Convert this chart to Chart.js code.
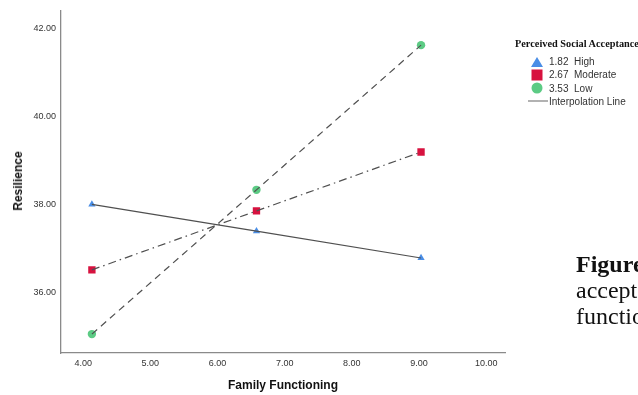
<!DOCTYPE html>
<html lang="en">
<head>
  <meta charset="UTF-8" />
  <title>Resilience by Family Functioning</title>
  <script src="https://cdn.jsdelivr.net/npm/chart.js"></script>
  <style>
    body {
      margin: 0;
      background: #fff;
      width: 638px;
      height: 395px;
      overflow: hidden;
      position: relative;
      font-family: 'Liberation Sans', Arial, sans-serif;
    }
    #chart { position: absolute; left: 0; top: 0; }
    .ytitle {
      position: absolute;
      left: 18px; top: 181px;
      transform: translate(-50%, -50%) rotate(-90deg);
      font-weight: bold; font-size: 12px; color: #111;
      white-space: nowrap;
    }
    .xtitle {
      position: absolute;
      left: 283px; top: 385px;
      transform: translate(-50%, -50%);
      font-weight: bold; font-size: 12px; color: #111;
      white-space: nowrap;
    }
    .legend {
      position: absolute;
      left: 515px; top: 38px;
      white-space: nowrap;
    }
    .legend-title {
      font-family: 'Liberation Serif', 'Times New Roman', serif;
      font-weight: bold; font-size: 10.3px; color: #111;
      height: 17px; line-height: 12px;
    }
    .legend-item {
      position: relative;
      height: 13.3px; line-height: 13px;
      font-size: 10px; color: #333;
      padding-left: 34px;
    }
    .legend-item .mk { position: absolute; left: 22px; top: 6.5px; transform: translate(-50%, -50%); }
    .caption {
      position: absolute;
      left: 576px;
      font-family: 'Liberation Serif', 'Times New Roman', serif;
      font-size: 24px; color: #111;
      white-space: nowrap;
      line-height: 26px;
    }
  </style>
</head>
<body>
<canvas id="chart" width="638" height="395"></canvas>
<div class="ytitle">Resilience</div>
<div class="xtitle">Family Functioning</div>
<div class="legend" id="legend"></div>
<div class="caption" style="top:251px"><b>Figure 2.</b> Moderating effect of perceived social</div>
<div class="caption" style="top:277px">acceptance on the relation between family</div>
<div class="caption" style="top:303px">functioning and resilience.</div>

<script>
  // levels of family functioning (mean - SD, mean, mean + SD)
  const xLevels = [4.13, 6.58, 9.03];
  const highValues = [38.00, 37.39, 36.78];
  const moderateValues = [36.51, 37.85, 39.19];
  const lowValues = [35.05, 38.33, 41.62];

  const xTicks = [4, 5, 6, 7, 8, 9, 10];
  const yTicks = [36, 38, 40, 42];

  const seriesNames = ['1.82\u00a0\u00a0High', '2.67\u00a0\u00a0Moderate', '3.53\u00a0\u00a0Low'];
  const seriesColors = ['#4a8ee6', '#d7123f', '#5ccb84'];
  const seriesShapes = ['triangle', 'rect', 'circle'];
  const seriesDash = [[], [8, 4, 1.5, 4], [7, 5]];
  const lineColor = '#505050';

  const allValues = [highValues, moderateValues, lowValues];

  const datasets = [];
  // lines get the lower order so they draw above the markers
  allValues.forEach((vals, i) => {
    datasets.push({
      label: seriesNames[i] + ' line',
      data: xLevels.map((x, j) => ({ x, y: vals[j] })),
      borderColor: lineColor,
      borderWidth: 1.2,
      borderDash: seriesDash[i],
      pointRadius: 0,
      fill: false,
      order: 0
    });
  });
  allValues.forEach((vals, i) => {
    datasets.push({
      label: seriesNames[i],
      data: xLevels.map((x, j) => ({ x, y: vals[j] })),
      showLine: false,
      pointStyle: seriesShapes[i],
      pointRadius: i === 1 ? 5.2 : 4.2,
      pointBackgroundColor: seriesColors[i],
      pointBorderColor: seriesColors[i],
      pointBorderWidth: 0,
      order: 1
    });
  });

  const tickFont = { family: "'Liberation Sans', Arial, sans-serif", size: 9 };

  new Chart(document.getElementById('chart'), {
    type: 'line',
    data: { datasets },
    options: {
      responsive: false,
      animation: false,
      events: [],
      layout: { padding: { left: 0, top: 9, right: 133, bottom: 0 } },
      plugins: { legend: { display: false }, tooltip: { enabled: false } },
      scales: {
        x: {
          type: 'linear',
          min: 3.67, max: 10.28,
          afterBuildTicks: s => { s.ticks = xTicks.map(v => ({ value: v })); },
          afterFit: s => { s.height = 42; },
          grid: { display: false, drawTicks: false },
          border: { display: true, color: '#8a8a8a', width: 1.3 },
          ticks: { font: tickFont, color: '#333', padding: 5, maxRotation: 0,
                   callback: v => Number(v).toFixed(2) }
        },
        y: {
          min: 34.62, max: 42.41,
          afterBuildTicks: s => { s.ticks = yTicks.map(v => ({ value: v })); },
          afterFit: s => { s.width = 61; },
          grid: { display: false, drawTicks: false },
          border: { display: true, color: '#8a8a8a', width: 1.3 },
          ticks: { font: tickFont, color: '#333', padding: 5,
                   callback: v => Number(v).toFixed(2) }
        }
      }
    }
  });

  // legend built from the series definitions
  const legend = document.getElementById('legend');
  let html = '<div class="legend-title">Perceived Social Acceptance</div>';
  seriesNames.forEach((name, i) => {
    let mk;
    if (seriesShapes[i] === 'triangle') {
      mk = `<span class="mk" style="width:0;height:0;border-left:6px solid transparent;border-right:6px solid transparent;border-bottom:10px solid ${seriesColors[i]};"></span>`;
    } else if (seriesShapes[i] === 'rect') {
      mk = `<span class="mk" style="width:11px;height:11px;background:${seriesColors[i]};"></span>`;
    } else {
      mk = `<span class="mk" style="width:11px;height:11px;border-radius:50%;background:${seriesColors[i]};"></span>`;
    }
    html += `<div class="legend-item">${mk}${name}</div>`;
  });
  html += `<div class="legend-item"><span class="mk" style="width:20px;height:0;border-top:1.5px solid #666;left:23px;"></span>Interpolation Line</div>`;
  legend.innerHTML = html;
</script>
</body>
</html>
